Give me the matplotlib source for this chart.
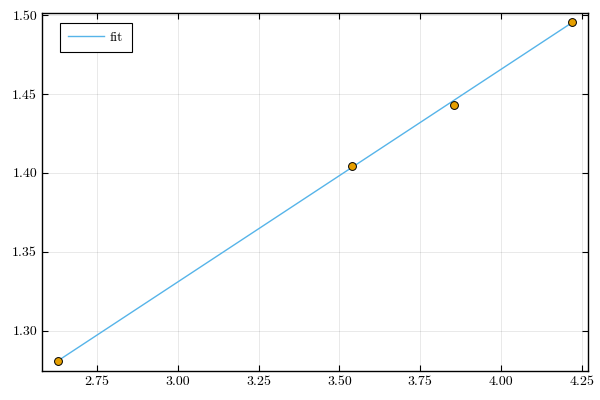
import matplotlib
matplotlib.use('Agg')
import matplotlib.pyplot as plt

# measured points
x_data = [2.628, 3.538, 3.855, 4.221]
y_data = [1.2808, 1.4044, 1.4433, 1.4954]

# fitted straight line (end points)
x_fit = [2.628, 4.221]
y_fit = [1.2808, 1.4954]

x_ticks = [2.75, 3.00, 3.25, 3.50, 3.75, 4.00, 4.25]
y_ticks = [1.30, 1.35, 1.40, 1.45, 1.50]

plt.rcParams['font.family'] = ['cmr10', 'DejaVu Serif']
plt.rcParams['axes.formatter.use_mathtext'] = True
plt.rcParams['mathtext.fontset'] = 'cm'

fig = plt.figure(figsize=(6, 4), dpi=100)
ax = fig.add_axes([0.07, 0.0725, 0.91, 0.895])

ax.plot(x_fit, y_fit, color='#56B4E9', lw=1, label='fit', zorder=2)
ax.scatter(x_data, y_data, s=32, color='#E69F00', edgecolor='black',
           linewidth=0.7, zorder=3)

ax.set_xlim(2.580, 4.269)
ax.set_ylim(1.2745, 1.5013)
ax.set_xticks(x_ticks)
ax.set_yticks(y_ticks)
ax.set_xticklabels([f'{v:.2f}' for v in x_ticks])
ax.set_yticklabels([f'{v:.2f}' for v in y_ticks])

ax.grid(True, color='black', alpha=0.1, lw=0.6)
ax.set_axisbelow(True)
for s in ax.spines.values():
    s.set_linewidth(1.0)
    s.set_color('black')
ax.tick_params(direction='in', length=4, width=0.8, labelsize=10,
               top=True, right=True, labeltop=False, labelright=False)

leg = ax.legend(loc='upper left', bbox_to_anchor=(18 / 546, 1 - 10 / 357),
                borderaxespad=0, fontsize=10, fancybox=False,
                edgecolor='black', framealpha=1, handlelength=2.6,
                handletextpad=0.4, borderpad=0.6)
leg.get_frame().set_linewidth(0.8)

fig.savefig('out.png', dpi=100)
